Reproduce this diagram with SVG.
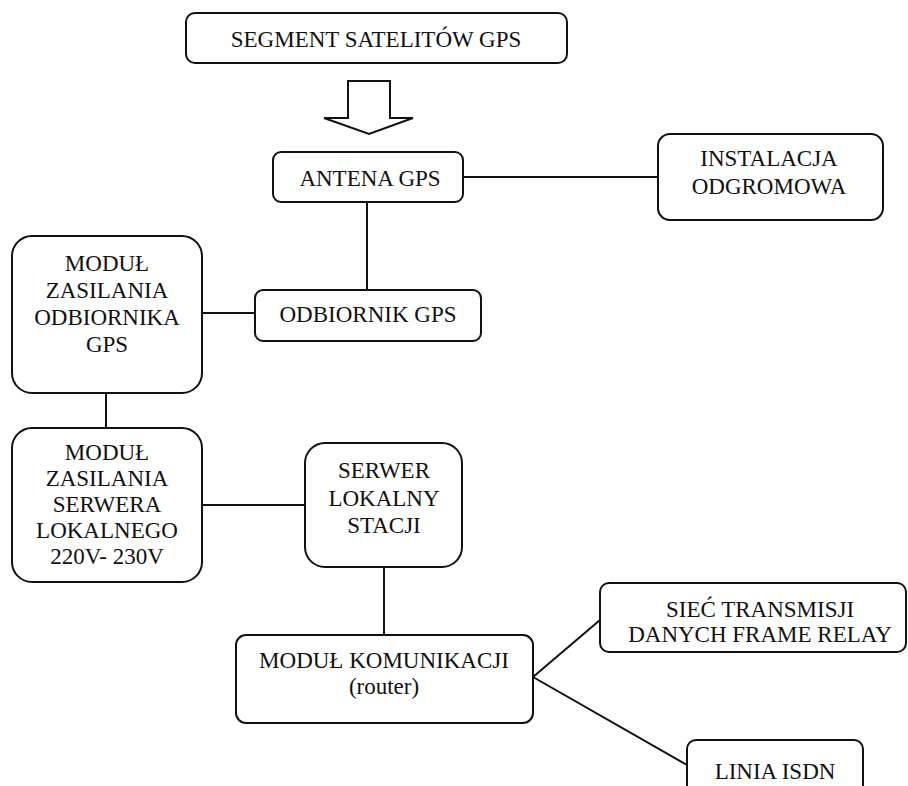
<svg xmlns="http://www.w3.org/2000/svg" width="908" height="786" viewBox="0 0 908 786">
<style>
.box{fill:#fff;stroke:#111;stroke-width:2}
.ln{stroke:#111;stroke-width:2;fill:none}
text{font-family:"Liberation Serif","Times New Roman",serif;font-size:23px;fill:#111;text-anchor:middle}
</style>
<rect width="908" height="786" fill="#fff"/>
<g id="connectors">
<polygon class="ln" points="348,81 390,81 390,118 413,118 369,134 324,118 348,118"/>
<line class="ln" x1="463" y1="177" x2="658" y2="177"/>
<line class="ln" x1="367" y1="202" x2="367" y2="290"/>
<line class="ln" x1="202" y1="313" x2="255" y2="313"/>
<line class="ln" x1="106" y1="393" x2="106" y2="428"/>
<line class="ln" x1="202" y1="505" x2="305" y2="505"/>
<line class="ln" x1="384" y1="567" x2="384" y2="635"/>
<line class="ln" x1="533" y1="677" x2="600" y2="620"/>
<line class="ln" x1="533" y1="677" x2="687" y2="765"/>
</g>
<g id="segment"><rect class="box" x="186" y="13" width="381" height="50" rx="9"/><text x="376" y="47">SEGMENT SATELITÓW GPS</text></g>
<g id="antena"><rect class="box" x="273" y="152" width="190" height="50" rx="8"/><text x="370" y="186">ANTENA GPS</text></g>
<g id="instalacja"><rect class="box" x="658" y="134" width="225" height="86" rx="12"/><text x="769" y="166">INSTALACJA</text><text x="769" y="194">ODGROMOWA</text></g>
<g id="odbiornik"><rect class="box" x="255" y="290" width="226" height="51" rx="8"/><text x="368" y="322">ODBIORNIK GPS</text></g>
<g id="zasilanie-odbiornika"><rect class="box" x="12" y="236" width="190" height="157" rx="20"/><text x="107" y="271">MODUŁ</text><text x="107" y="298">ZASILANIA</text><text x="107" y="325">ODBIORNIKA</text><text x="107" y="352">GPS</text></g>
<g id="zasilanie-serwera"><rect class="box" x="12" y="428" width="190" height="154" rx="20"/><text x="107" y="460">MODUŁ</text><text x="107" y="486">ZASILANIA</text><text x="107" y="512">SERWERA</text><text x="107" y="538">LOKALNEGO</text><text x="107" y="564">220V- 230V</text></g>
<g id="serwer"><rect class="box" x="305" y="443" width="157" height="124" rx="20"/><text x="384" y="478">SERWER</text><text x="384" y="506">LOKALNY</text><text x="384" y="533">STACJI</text></g>
<g id="komunikacja"><rect class="box" x="236" y="635" width="297" height="88" rx="10"/><text x="384" y="668">MODUŁ KOMUNIKACJI</text><text x="384" y="694">(router)</text></g>
<g id="siec"><rect class="box" x="600" y="583" width="306" height="69" rx="9"/><text x="760" y="617">SIEĆ TRANSMISJI</text><text x="760" y="642">DANYCH FRAME RELAY</text></g>
<g id="isdn"><rect class="box" x="687" y="740" width="176" height="70" rx="9"/><text x="775" y="779">LINIA ISDN</text></g>
</svg>
